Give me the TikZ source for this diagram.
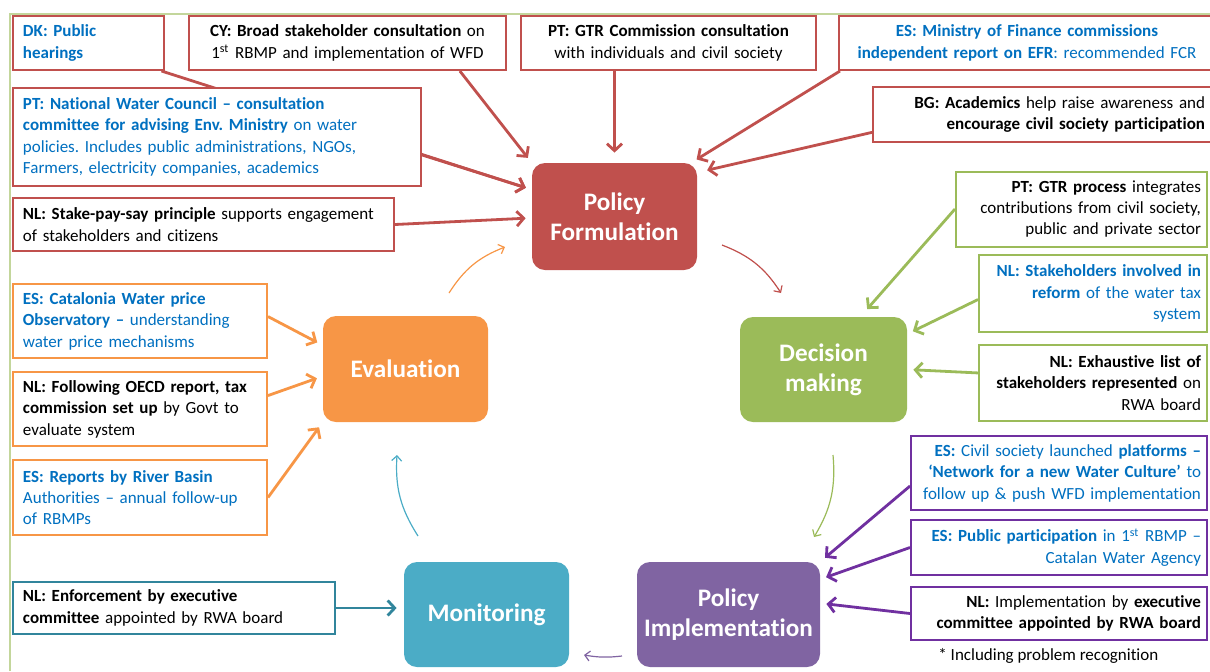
\documentclass[tikz,border=0pt]{standalone}
\usepackage{fontspec}
\setmainfont{Carlito}[Ligatures={TeX,NoCommon}]
\usetikzlibrary{positioning, arrows.meta, backgrounds}

\definecolor{pfred}{HTML}{C0504D}
\definecolor{dmgreen}{HTML}{9BBB59}
\definecolor{pipurple}{HTML}{8064A2}
\definecolor{plum}{HTML}{7030A0}
\definecolor{moteal}{HTML}{4BACC6}
\definecolor{tealedge}{HTML}{31859C}
\definecolor{evorange}{HTML}{F79646}
\definecolor{txtblue}{HTML}{0070C0}
\definecolor{frameline}{HTML}{C3D69B}

\newcommand{\notefont}{\fontsize{8.5}{10.7}\selectfont\frenchspacing}
\newcommand{\stagefont}{\fontsize{12.6}{15}\selectfont\bfseries}

\begin{document}
\begin{tikzpicture}[
    x=0.5pt, y=-0.5pt,
    note/.style={rectangle, draw=#1, line width=1pt, fill=white, inner xsep=5pt, inner ysep=1pt, font=\notefont},
    flushl/.style={align=left},
    flushc/.style={align=center},
    flushr/.style={align=right, inner xsep=3pt},
    stage/.style={rectangle, rounded corners=6.5pt, fill=#1, text=white, align=center, font=\stagefont},
    feed/.style={draw=#1, line width=1.4pt, -{Straight Barb[length=3.5pt, width=7.5pt]}, shorten >=3pt},
    cyclearrow/.style={draw=#1, line width=0.6pt, -{Straight Barb[length=2.5pt, width=5pt]}}
]
\useasboundingbox (0,0) rectangle (1210,671);

% Cycle stages
\node[stage=pfred, minimum width=82.5pt, minimum height=53.5pt] (pf) at (614.5,216.5) {Policy\\Formulation};
\node[stage=dmgreen, minimum width=83.5pt, minimum height=52.5pt] (dm) at (823.5,369.5) {Decision\\making};
\node[stage=pipurple, minimum width=91.5pt, minimum height=52.5pt] (pi) at (728.5,614.5) {Policy\\Implementation};
\node[stage=moteal, minimum width=82.5pt, minimum height=52.5pt] (mo) at (486.5,614.5) {Monitoring};
\node[stage=evorange, minimum width=82.5pt, minimum height=53pt] (ev) at (405.5,369) {Evaluation};

% Policy formulation notes
\node[note=pfred, flushl, text=txtblue, text width=65.5pt, minimum height=27pt] (dk) at (88.5,43)
    {\textbf{DK: Public}\\\textbf{hearings}};
\node[note=pfred, flushc, text width=148.5pt, minimum height=27pt] (cy) at (347.5,43)
    {\textbf{CY: Broad stakeholder consultation} on\\1\textsuperscript{st} RBMP and implementation of WFD};
\node[note=pfred, flushc, text width=137.5pt, minimum height=27pt] (ptgtr) at (668.5,43)
    {\textbf{PT: GTR Commission consultation}\\with individuals and civil society};
\node[note=pfred, flushc, text=txtblue, text width=178pt, minimum height=27pt] (esmin) at (1027,43)
    {\textbf{ES: Ministry of Finance commissions}\\\textbf{independent report on EFR}: recommended FCR};
\node[note=pfred, flushr, text width=163pt, minimum height=27.5pt] (bg) at (1042,114.5)
    {\textbf{BG: Academics} help raise awareness and\\\textbf{encourage civil society participation}};
\node[note=pfred, flushl, text=txtblue, text width=194pt, minimum height=49pt] (ptnwc) at (217,137)
    {\textbf{PT: National Water Council – consultation}\\\textbf{committee for advising Env. Ministry} on water\\policies. Includes public administrations, NGOs,\\Farmers, electricity companies, academics};
\node[note=pfred, flushl, text width=180.5pt, minimum height=26.5pt] (nlstake) at (203.5,224.5)
    {\textbf{NL: Stake-pay-say principle} supports engagement\\of stakeholders and citizens};

% Decision making notes
\node[note=dmgreen, flushr, text width=119.5pt, minimum height=37.5pt] (ptproc) at (1081.5,209)
    {\textbf{PT: GTR process} integrates\\contributions from civil society,\\public and private sector};
\node[note=dmgreen, flushr, text=txtblue, text width=108pt, minimum height=38.5pt] (nlstakeh) at (1093,293.5)
    {\textbf{NL: Stakeholders involved in}\\\textbf{reform} of the water tax\\system};
\node[note=dmgreen, flushr, text width=108pt, minimum height=38pt] (nlexh) at (1093,383)
    {\textbf{NL: Exhaustive list of}\\\textbf{stakeholders represented} on\\RWA board};

% Implementation notes
\node[note=plum, flushr, text=txtblue, text width=142pt, minimum height=37pt] (escivil) at (1059,473)
    {\textbf{ES:} Civil society launched \textbf{platforms –}\\\textbf{‘Network for a new Water Culture’} to\\follow up \& push WFD implementation};
\node[note=plum, flushr, text=txtblue, text width=142pt, minimum height=27.5pt] (espub) at (1059,547.5)
    {\textbf{ES: Public participation} in 1\textsuperscript{st} RBMP –\\Catalan Water Agency};
\node[note=plum, flushr, text width=142pt, minimum height=26.5pt] (nlimpl) at (1059,613.5)
    {\textbf{NL:} Implementation by \textbf{executive}\\\textbf{committee appointed by RWA board}};
\node[font=\notefont, anchor=west, inner sep=0pt] (footnote) at (938,656) {* Including problem recognition};

% Monitoring note
\node[note=tealedge, flushl, text width=151pt, minimum height=26pt] (nlenf) at (174,608)
    {\textbf{NL: Enforcement by executive}\\\textbf{committee} appointed by RWA board};

% Evaluation notes
\node[note=evorange, flushl, text=txtblue, text width=117pt, minimum height=37pt] (escat) at (140,321)
    {\textbf{ES: Catalonia Water price}\\\textbf{Observatory –} understanding\\water price mechanisms};
\node[note=evorange, flushl, text width=117pt, minimum height=37pt] (nlfoll) at (140,409)
    {\textbf{NL: Following OECD report, tax}\\\textbf{commission set up} by Govt to\\evaluate system};
\node[note=evorange, flushl, text=txtblue, text width=117pt, minimum height=37.5pt] (esrep) at (140,497.5)
    {\textbf{ES: Reports by River Basin}\\Authorities – annual follow-up\\of RBMPs};

% Ends of the cycle arrows
\coordinate (pfdm0) at (722,245);  \coordinate (pfdm1) at (781,293);
\coordinate (dmpi0) at (833,455);  \coordinate (dmpi1) at (814,537);
\coordinate (pimo0) at (622,656);  \coordinate (pimo1) at (584,655);
\coordinate (moev0) at (418,536);  \coordinate (moev1) at (397,455);
\coordinate (evpf0) at (449,293);  \coordinate (evpf1) at (505,247);

\begin{scope}[on background layer]
% Frame
\draw[frameline, line width=1pt] (10,671) -- (10,14) -- (1215,14);

% Arrows into the stages
\draw[feed=pfred] (dk.-21) -- (pf.162);
\draw[feed=pfred] (cy.-14) -- (pf.north west);
\draw[feed=pfred, shorten >=5pt] (ptgtr.south -| pf.north) -- (pf.north);
\draw[feed=pfred] ([xshift=1pt]esmin.south west) -- (pf.35);
\draw[feed=pfred, shorten >=5pt] (bg.186) -- (pf.28);
\draw[feed=pfred] (ptnwc.-5) -- (pf.162);
\draw[feed=pfred] (nlstake.east) -- (pf.181);

\draw[feed=dmgreen, shorten >=5pt] (ptproc.west) -- (dm.55);
\draw[feed=dmgreen] (nlstakeh.183) -- (dm.23);
\draw[feed=dmgreen] (nlexh.175) -- (dm.east);

\draw[feed=plum] (escivil.185) -- (pi.north east);
\draw[feed=plum] (espub.west) -- (pi.21);
\draw[feed=plum] (nlimpl.west) -- (pi.7);

\draw[feed=tealedge, shorten >=3.5pt] (nlenf.east) -- (nlenf.east -| mo.west);

\draw[feed=evorange] (escat.2) -- (ev.164);
\draw[feed=evorange] (nlfoll.6) -- (ev.185);
\draw[feed=evorange] (esrep.east) -- (ev.south west);

% Cycle
\draw[cyclearrow=pfred] (pfdm0) to[bend left=18] (pfdm1);
\draw[cyclearrow=dmgreen] (dmpi0) to[bend left=18] (dmpi1);
\draw[cyclearrow=pipurple] (pimo0) to[bend left=8] (pimo1);
\draw[cyclearrow=moteal] (moev0) to[bend left=18] (moev1);
\draw[cyclearrow=evorange] (evpf0) to[bend left=18] (evpf1);
\end{scope}

\end{tikzpicture}
\end{document}
